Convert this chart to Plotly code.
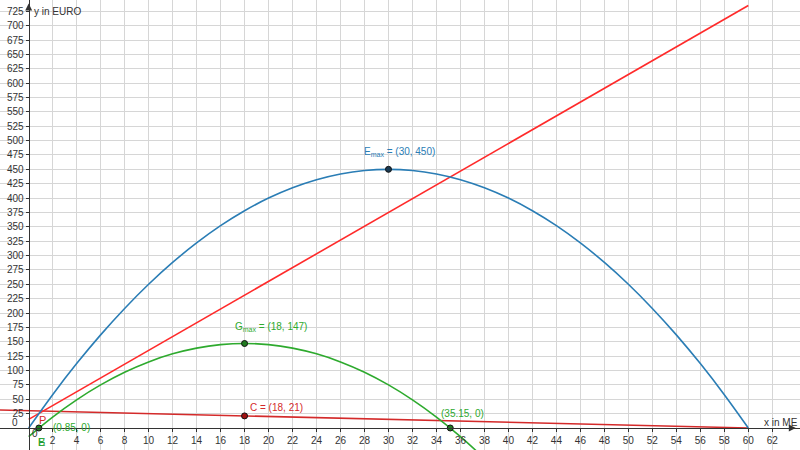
import plotly.graph_objects as go

# ---- data ----
x_vals = [0, 2, 4, 6, 8, 10, 12, 14, 16, 18, 20, 22, 24, 26, 28, 30,
          32, 34, 36, 38, 40, 42, 44, 46, 48, 50, 52, 54, 56, 58, 60]
revenue_E = [0, 58, 112, 162, 208, 250, 288, 322, 352, 378, 400, 418, 432, 442, 448, 450,
             448, 442, 432, 418, 400, 378, 352, 322, 288, 250, 208, 162, 112, 58, 0]

g_x = [0, 2, 4, 6, 8, 10, 12, 14, 16, 18, 20, 22, 24, 26, 28, 30, 32, 34, 36, 38]
profit_G = [-15, 19, 49, 75, 97, 115, 129, 139, 145, 147, 145, 139, 129, 115, 97, 75, 49, 19, -15, -53]

cost_x = [0, 60]
cost_K = [15, 735]

line_c_x = [-3, 60]
line_c_y = [31.5, 0]

pt_emax = (30, 450)
pt_gmax = (18, 147)
pt_c = (18, 21)
zeros_x = [0.85, 35.15]
zeros_y = [0, 0]

x_ticks = list(range(2, 63, 2))
y_ticks = list(range(25, 726, 25))

X_RANGE = [-2.39, 64.31]
Y_RANGE = [-38.3, 744.6]

BLUE = "#2a7db5"
GREEN = "#2eaa2e"
RED = "#ff2a2a"
DRED = "#d42a2a"
FONT = "Liberation Sans"

fig = go.Figure()

fig.add_trace(go.Scatter(x=line_c_x, y=line_c_y, mode="lines",
                         line=dict(color=DRED, width=1.6), hoverinfo="skip"))
fig.add_trace(go.Scatter(x=cost_x, y=cost_K, mode="lines",
                         line=dict(color=RED, width=1.6), hoverinfo="skip"))
fig.add_trace(go.Scatter(x=x_vals, y=revenue_E, mode="lines", line_shape="spline",
                         line=dict(color=BLUE, width=1.6), hoverinfo="skip"))
fig.add_trace(go.Scatter(x=g_x, y=profit_G, mode="lines", line_shape="spline",
                         line=dict(color=GREEN, width=1.6), hoverinfo="skip"))

# points
fig.add_trace(go.Scatter(x=[pt_emax[0]], y=[pt_emax[1]], mode="markers",
                         marker=dict(size=6, color="#1b3a52", line=dict(color="#111", width=1))))
fig.add_trace(go.Scatter(x=[pt_gmax[0]], y=[pt_gmax[1]], mode="markers",
                         marker=dict(size=6, color="#1f7a1f", line=dict(color="#111", width=1))))
fig.add_trace(go.Scatter(x=[pt_c[0]], y=[pt_c[1]], mode="markers",
                         marker=dict(size=6, color="#a01010", line=dict(color="#111", width=1))))
fig.add_trace(go.Scatter(x=zeros_x, y=zeros_y, mode="markers",
                         marker=dict(size=6, color="#1f7a1f", line=dict(color="#111", width=1))))

# axis arrowheads (at the axis ends)
fig.add_trace(go.Scatter(x=[X_RANGE[1] - 0.35], y=[0], mode="markers", hoverinfo="skip",
                         cliponaxis=False,
                         marker=dict(symbol="arrow-right", size=7, color="#333333")))
fig.add_trace(go.Scatter(x=[0], y=[Y_RANGE[1] - 6], mode="markers", hoverinfo="skip",
                         cliponaxis=False,
                         marker=dict(symbol="arrow-up", size=7, color="#333333")))

pos_y_axis = (0 - X_RANGE[0]) / (X_RANGE[1] - X_RANGE[0])
pos_x_axis = (0 - Y_RANGE[0]) / (Y_RANGE[1] - Y_RANGE[0])

axis_common = dict(showgrid=True, gridcolor="#d6d6d6", gridwidth=1, zeroline=False,
                   showline=True, linecolor="#333333", linewidth=1,
                   ticks="outside", ticklen=3, tickcolor="#333333",
                   tickfont=dict(family=FONT, size=10, color="#333333"),
                   anchor="free", fixedrange=True)

fig.update_layout(
    width=800, height=450,
    margin=dict(l=0, r=0, t=0, b=0),
    paper_bgcolor="white", plot_bgcolor="white",
    showlegend=False,
    xaxis=dict(range=X_RANGE, tickvals=x_ticks, position=pos_x_axis, **axis_common),
    yaxis=dict(range=Y_RANGE, tickvals=y_ticks, position=pos_y_axis, **axis_common),
)

def label(x, y, text, color, xanchor="left", yanchor="middle", size=10):
    fig.add_annotation(x=x, y=y, text=text, showarrow=False, xanchor=xanchor, yanchor=yanchor,
                       font=dict(family=FONT, size=size, color=color))

label(27.8, 480, "E<sub>max</sub> = (30, 450)", BLUE)
label(17.0, 175, "G<sub>max</sub> = (18, 147)", GREEN)
label(18.3, 35, "C = (18, 21)", DRED)
label(34.2, 26, "(35.15, 0)", GREEN)
label(1.9, 0, "(0.85, 0)", GREEN)
label(0.7, 14, "P", DRED, size=11)
label(0.65, -24, "E", "#1f8a4a", size=11)
label(0.65, -24, "B", GREEN, size=11)
label(0.3, 725, "y in EURO", "#333333")
label(61.1, 10, "x in ME", "#333333")
label(0.15, -10, "0", "#333333")
label(-0.7, 10, "0", "#333333", xanchor="right")

fig.write_html("out.html", config={"displayModeBar": False},
               post_script="document.body.style.margin='0';document.body.style.padding='0';")
